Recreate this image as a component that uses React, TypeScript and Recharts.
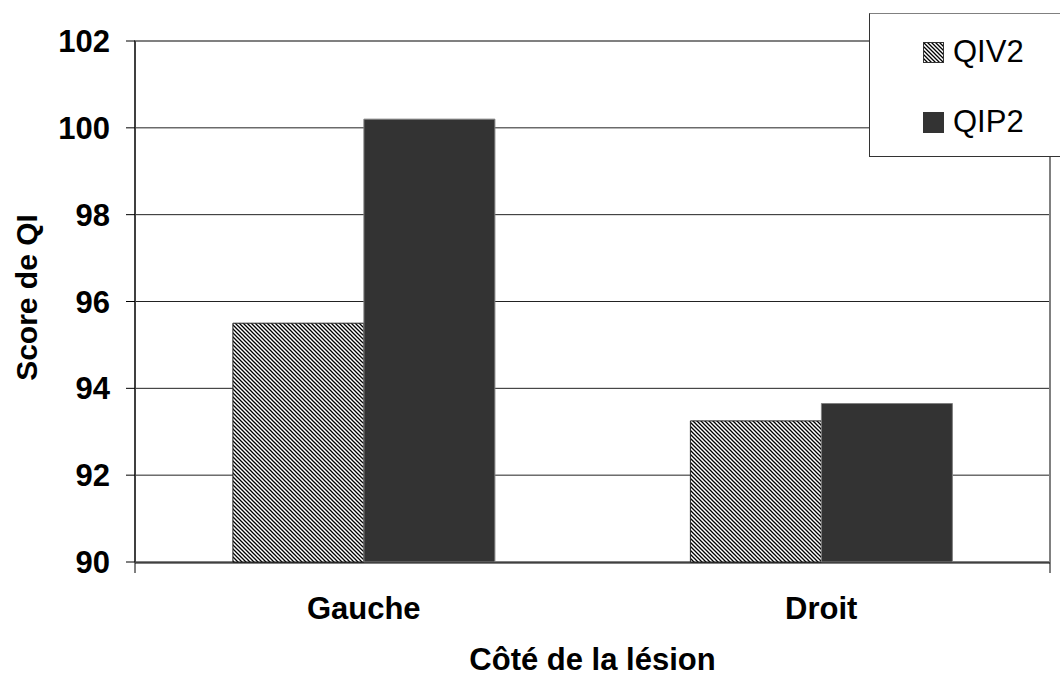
import { BarChart, Bar, CartesianGrid, XAxis, YAxis, Legend, ReferenceArea } from 'recharts';

const categories = ['Gauche', 'Droit'];
const qiv2 = [95.5, 93.25];
const qip2 = [100.2, 93.65];
const yTicks = [90, 92, 94, 96, 98, 100, 102];

const data = categories.map((name, i) => ({ name, QIV2: qiv2[i], QIP2: qip2[i] }));

const font = '"Liberation Sans", Arial, sans-serif';

const HatchDefs = ({ id }: { id: string }) => (
  <defs>
    <pattern id={id} patternUnits="userSpaceOnUse" width={4} height={4}>
      <rect width={4} height={4} fill="#fff" />
      <path d="M-1,3 L1,5 M0,0 L4,4 M3,-1 L5,1" stroke="#000" strokeWidth={1.3} />
    </pattern>
  </defs>
);

const renderLegend = () => (
  <div
    style={{
      boxSizing: 'border-box',
      width: 200,
      height: 144,
      background: '#fff',
      border: '1px solid #333',
      borderTopColor: '#808080',
      fontFamily: font,
      fontSize: 31,
      color: '#000',
      paddingLeft: 53,
      paddingTop: 18,
    }}
  >
    <div style={{ display: 'flex', alignItems: 'center', height: 40 }}>
      <svg width={21} height={21} style={{ marginRight: 9 }}>
        <HatchDefs id="hatchLegend" />
        <rect x={0.5} y={0.5} width={20} height={20} fill="url(#hatchLegend)" stroke="#333" />
      </svg>
      QIV2
    </div>
    <div style={{ display: 'flex', alignItems: 'center', height: 40, marginTop: 30 }}>
      <svg width={21} height={21} style={{ marginRight: 9 }}>
        <rect x={0} y={0} width={21} height={21} fill="#333" />
      </svg>
      QIP2
    </div>
  </div>
);

export default function App() {
  return (
    <div style={{ position: 'absolute', left: 0, top: 0, background: '#fff' }}>
      <BarChart
        width={1060}
        height={677}
        data={data}
        margin={{ top: 41, right: 10, bottom: 113, left: 0 }}
        barCategoryGap="21.4%"
        barGap={0}
      >
        <HatchDefs id="hatch" />
        <CartesianGrid vertical={false} stroke="#222" />
        <ReferenceArea y1={90} y2={102} fill="none" stroke="#808080" strokeWidth={2} ifOverflow="visible" />
        <YAxis
          width={135}
          domain={[90, 102]}
          ticks={yTicks}
          interval={0}
          tickSize={9}
          tickMargin={16}
          axisLine={{ stroke: '#000' }}
          tickLine={{ stroke: '#000' }}
          tick={{ fill: '#000', fontSize: 31, fontWeight: 'bold', fontFamily: font }}
          label={{
            content: (props: any) => {
              const vb = props.viewBox || { x: 0, y: 41, width: 135, height: 521 };
              const cx = vb.x + 26;
              const cy = vb.y + vb.height / 2 - 4;
              return (
                <text
                  x={cx}
                  y={cy}
                  transform={`rotate(-90 ${cx} ${cy})`}
                  textAnchor="middle"
                  dominantBaseline="central"
                  fontSize={30}
                  fontWeight="bold"
                  fontFamily={font}
                  fill="#000"
                >
                  Score de QI
                </text>
              );
            },
          }}
        />
        <XAxis
          dataKey="name"
          height={1}
          axisLine={false}
          tickLine={false}
          tickSize={0}
          tickMargin={35}
          tick={{ fill: '#000', fontSize: 31, fontWeight: 'bold', fontFamily: font }}
          label={{
            content: (props: any) => {
              const vb = props.viewBox || { x: 135, y: 562, width: 915, height: 0 };
              return (
                <text
                  x={vb.x + vb.width / 2}
                  y={vb.y + 108}
                  textAnchor="middle"
                  fontSize={31}
                  fontWeight="bold"
                  fontFamily={font}
                  fill="#000"
                >
                  Côté de la lésion
                </text>
              );
            },
          }}
        />
        <XAxis
          xAxisId="edges"
          type="number"
          domain={[0, 2]}
          ticks={[0, 1, 2]}
          allowDataOverflow
          height={1}
          tickSize={10}
          tickFormatter={() => ''}
          axisLine={{ stroke: '#000' }}
          tickLine={{ stroke: '#000' }}
        />
        <Legend
          layout="vertical"
          align="center"
          verticalAlign="middle"
          content={renderLegend}
          wrapperStyle={{ position: 'absolute', left: 869, top: 13, width: 200, height: 144 }}
        />
        <Bar dataKey="QIV2" fill="url(#hatch)" stroke="#222" strokeWidth={1} isAnimationActive={false} />
        <Bar dataKey="QIP2" fill="#333333" stroke="#808080" strokeWidth={1} isAnimationActive={false} />
      </BarChart>
    </div>
  );
}
